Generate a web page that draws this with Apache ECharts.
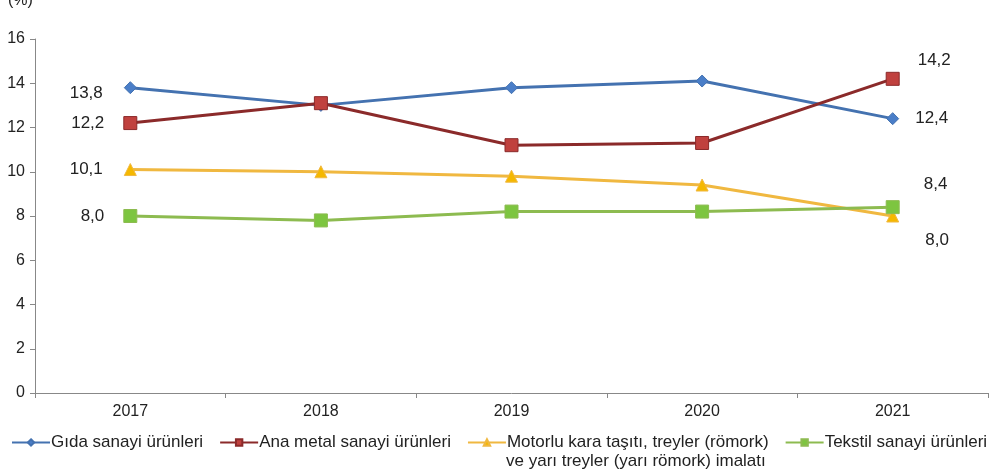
<!DOCTYPE html>
<html>
<head>
    <meta charset="utf-8">
    <title>Sanayi ürünleri</title>
    <script src="https://cdn.jsdelivr.net/npm/echarts@6/dist/echarts.min.js"></script>
</head>
<body style="margin:0">
<div id="main" style="width:1000px;height:471px;"></div>
<script type="text/javascript">
    var years = ['2017', '2018', '2019', '2020', '2021'];
    var gida = [13.8, 13.0, 13.8, 14.1, 12.4];
    var anaMetal = [12.2, 13.1, 11.2, 11.3, 14.2];
    var motorlu = [10.1, 10.0, 9.8, 9.4, 8.0];
    var tekstil = [8.0, 7.8, 8.2, 8.2, 8.4];
    var yTicks = [0, 2, 4, 6, 8, 10, 12, 14, 16];

    var names = ['Gıda sanayi ürünleri', 'Ana metal sanayi ürünleri',
        'Motorlu kara taşıtı, treyler (römork)', 'Tekstil sanayi ürünleri'];

    function fmt(v) {
        return v.toFixed(1).replace('.', ',');
    }

    // label offsets for first / last point of each series
    function withLabels(values, firstOff, lastOff) {
        return values.map(function (v, i) {
            var item = {value: v};
            if (i === 0) {
                item.label = {show: true, position: 'left', distance: 21, offset: firstOff};
            } else if (i === values.length - 1) {
                item.label = {show: true, position: 'right', distance: 16, offset: lastOff};
            }
            return item;
        });
    }

    function mkSeries(name, values, color, mColor, symbol, size, firstOff, lastOff) {
        return {
            name: name,
            type: 'line',
            data: withLabels(values, firstOff, lastOff),
            symbol: symbol,
            symbolSize: size,
            lineStyle: {color: color, width: 3},
            itemStyle: {color: mColor, borderColor: color, borderWidth: 1},
            label: {
                formatter: function (p) { return fmt(p.value); },
                color: '#222',
                fontSize: 17,
                fontFamily: 'Liberation Sans'
            },
            z: 3
        };
    }

    var myChart = echarts.init(document.getElementById('main'));
    myChart.setOption({
        animation: false,
        grid: {left: 35, right: 12, top: 39, bottom: 78},
        xAxis: {
            type: 'category',
            data: years,
            boundaryGap: true,
            axisLine: {lineStyle: {color: '#888', width: 1}},
            axisTick: {show: true, alignWithLabel: false, length: 5, lineStyle: {color: '#888'}},
            axisLabel: {color: '#222', fontSize: 16, fontFamily: 'Liberation Sans', margin: 11}
        },
        yAxis: {
            type: 'value',
            min: yTicks[0],
            max: yTicks[yTicks.length - 1],
            interval: 2,
            splitLine: {show: false},
            axisLine: {show: true, lineStyle: {color: '#888', width: 1}},
            axisTick: {show: true, length: 5, lineStyle: {color: '#888'}},
            axisLabel: {color: '#222', fontSize: 16, fontFamily: 'Liberation Sans', margin: 10}
        },
        legend: {
            top: 429,
            left: 6,
            itemWidth: 38,
            itemHeight: 8,
            itemGap: 16,
            textStyle: {color: '#222', fontSize: 17, fontFamily: 'Liberation Sans', padding: [0, 0, 0, -4]},
            data: names
        },
        graphic: [{
            type: 'text',
            left: 8,
            top: -7,
            style: {text: '(%)', fontSize: 16, fill: '#222', fontFamily: 'Liberation Sans'}
        }, {
            type: 'text',
            left: 506,
            top: 453,
            style: {text: 've yarı treyler (yarı römork) imalatı', fontSize: 17, fill: '#222', fontFamily: 'Liberation Sans'}
        }],
        series: [
            mkSeries(names[0], gida, '#4472b0', '#4a7ec8', 'diamond', 12, [0, 6], [0, 0]),
            mkSeries(names[1], anaMetal, '#8b2a2a', '#c0413e', 'rect', 13, [2, 0], [2, -19]),
            mkSeries(names[2], motorlu, '#f0b840', '#f5b800', 'triangle', 12, [0, 0], [10, 24]),
            mkSeries(names[3], tekstil, '#8dbb50', '#7dc540', 'rect', 13, [2, 0], [8, -23])
        ]
    });
</script>
</body>
</html>
